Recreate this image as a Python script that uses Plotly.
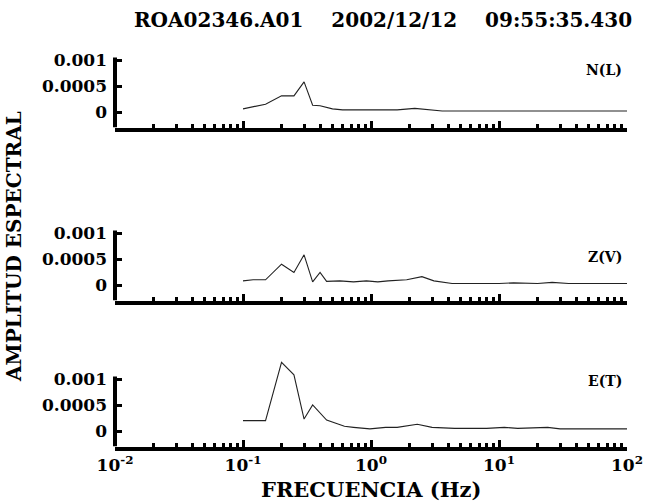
import plotly.graph_objects as go

# ---- data ----
freq_n = [0.1, 0.15, 0.2, 0.25, 0.3, 0.35, 0.4, 0.5, 0.6, 0.8, 0.9, 1.2, 1.6, 2.2, 2.8, 3.6, 10, 30, 100]
amp_n = [0.00006, 0.00015, 0.00031, 0.00031, 0.00058, 0.00013, 0.00012, 0.00006, 0.00004, 0.00004,
         0.00003, 0.00004, 0.00004, 0.00007, 0.00005, 0.00002, 0.00002, 0.00002, 0.00002]

freq_z = [0.1, 0.12, 0.15, 0.2, 0.25, 0.3, 0.35, 0.4, 0.45, 0.57, 0.73, 0.92, 1.13, 1.36, 1.9, 2.5,
          3.1, 4.3, 10, 13, 20, 26, 35, 100]
amp_z = [0.00008, 0.0001, 0.0001, 0.0004, 0.00024, 0.00058, 0.00006, 0.00024, 0.00007, 0.00008,
         0.00006, 0.00008, 0.00006, 0.00008, 0.0001, 0.00016, 0.00008, 0.00003, 0.00003, 0.00004,
         0.00003, 0.00005, 0.00003, 0.00003]

freq_e = [0.1, 0.15, 0.2, 0.25, 0.3, 0.35, 0.45, 0.57, 0.62, 0.73, 0.98, 1.3, 1.6, 2.3, 3.0, 4.5,
          8, 11, 14, 24, 30, 100]
amp_e = [0.0002, 0.0002, 0.00132, 0.00108, 0.00023, 0.0005, 0.00021, 0.00012, 0.00009, 0.00007,
         0.00004, 0.00007, 0.00007, 0.00013, 0.00007, 0.00005, 0.00005, 0.00007, 0.00005, 0.00007,
         0.00004, 0.00004]

panel_names = ["N(L)", "Z(V)", "E(T)"]
y_tickvals = [0, 0.0005, 0.001]
y_ticktext = ["0", "0.0005", "0.001"]
x_tickvals = [0.01, 0.1, 1, 10, 100]
x_ticktext = ["10<sup>-2</sup>", "10<sup>-1</sup>", "10<sup>0</sup>", "10<sup>1</sup>", "10<sup>2</sup>"]
x_minor = [m * 10 ** e for e in range(-2, 2) for m in range(2, 10)]

title_text = "ROA02346.A01&nbsp;&nbsp;&nbsp;&nbsp;2002/12/12&nbsp;&nbsp;&nbsp;&nbsp;09:55:35.430"

# ---- layout helpers ----
W, H = 646, 501
FONT = "DejaVu Serif"
YMIN, YMAX = -0.0003, 0.0014
PX_PER_UNIT = 52000.0
zero_px = [112, 285, 431]
x_dom = [115 / W, 627 / W]

def py(p):
    return 1 - p / H

fig = go.Figure()
series = [(freq_n, amp_n), (freq_z, amp_z), (freq_e, amp_e)]
layout = {}
shapes = []
annotations = []
for i, ((f, a), name, z) in enumerate(zip(series, panel_names, zero_px)):
    k = "" if i == 0 else str(i + 1)
    fig.add_trace(go.Scatter(x=f, y=a, mode="lines", line=dict(color="#222222", width=1.1),
                             xaxis="x" + k, yaxis="y" + k, showlegend=False, hoverinfo="skip"))
    bottom = z + (-YMIN) * PX_PER_UNIT
    top = z - YMAX * PX_PER_UNIT
    layout["xaxis" + k] = dict(
        type="log", range=[-2, 2], domain=x_dom, anchor="y" + k, automargin=False,
        showline=True, linecolor="black", linewidth=4,
        ticks="inside", ticklen=7, tickwidth=3, tickcolor="black",
        tickvals=x_tickvals, ticktext=x_ticktext, showticklabels=(i == 2),
        tickfont=dict(family=FONT, size=17, color="black", weight="bold"),
        minor=dict(tickvals=x_minor, ticks="inside", ticklen=4, tickwidth=3, tickcolor="black"),
        showgrid=False, zeroline=False, fixedrange=True,
    )
    layout["yaxis" + k] = dict(
        range=[YMIN, YMAX], domain=[py(bottom), py(top)], anchor="x" + k, automargin=False,
        showline=False, ticks="inside", ticklen=7, tickwidth=3, tickcolor="black",
        tickvals=y_tickvals, ticktext=y_ticktext, ticklabelstandoff=7,
        tickfont=dict(family=FONT, size=17, color="black", weight="bold"),
        showgrid=False, zeroline=False, fixedrange=True,
    )
    shapes.append(dict(type="line", xref="x" + k + " domain", yref="y" + k,
                       x0=0, x1=0, y0=YMIN, y1=0.00105,
                       line=dict(color="black", width=4), layer="above"))
    label_y = [70, 257, 381][i]
    annotations.append(dict(text=name, xref="paper", yref="paper", x=624 / W, y=py(label_y),
                            xanchor="right", yanchor="middle", showarrow=False,
                            font=dict(family=FONT, size=14, color="black", weight="bold")))

annotations.append(dict(text=title_text, xref="paper", yref="paper", x=383 / W, y=py(20),
                        xanchor="center", yanchor="middle", showarrow=False,
                        font=dict(family=FONT, size=20, color="black", weight="bold")))
annotations.append(dict(text="AMPLITUD ESPECTRAL", xref="paper", yref="paper", x=14 / W, y=py(247),
                        xanchor="center", yanchor="middle", showarrow=False, textangle=-90,
                        font=dict(family=FONT, size=20, color="black", weight="bold")))
annotations.append(dict(text="FRECUENCIA (Hz)", xref="paper", yref="paper", x=371 / W, y=py(489),
                        xanchor="center", yanchor="middle", showarrow=False,
                        font=dict(family=FONT, size=21, color="black", weight="bold")))

fig.update_layout(
    width=W, height=H, margin=dict(l=0, r=0, t=0, b=0, autoexpand=False),
    paper_bgcolor="white", plot_bgcolor="white",
    shapes=shapes, annotations=annotations, **layout,
)
fig.write_html("out.html")
